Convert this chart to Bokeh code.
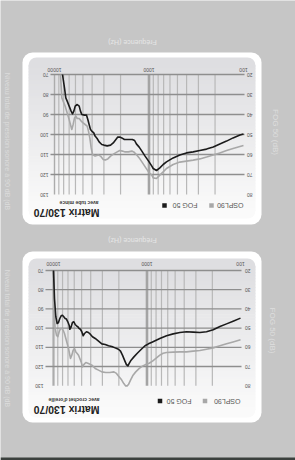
import math
import numpy as np
from bokeh.plotting import figure
from bokeh.models import Range1d, LogScale
from bokeh.core.properties import value
from bokeh.embed import file_html
from bokeh.resources import INLINE

# ---------------- data ----------------
level_ticks = [70, 80, 90, 100, 110, 120, 130]          # Niveau total (dB)
fog_ticks = [20, 30, 40, 50, 60, 70, 80]                # FOG 50 (dB)
freq_ticks = [10000, 1000, 100]
freq_tick_labels = ["10000", "1000", "100"]
minor_freqs = [200, 300, 400, 500, 600, 700, 800, 900,
               2000, 3000, 4000, 5000, 6000, 7000, 8000, 9000]
series_names = ["OSPL90", "FOG 50"]
titles = ["Matrix 130/70", "Matrix 130/70"]
subtitles = ["avec tube mince", "avec crochet d'oreille"]

# panel 1 : avec tube mince
ospl1_freq = [8650, 8360, 8100, 7720, 7340, 7000, 6780, 6560, 6350, 6140,
              5950, 5750, 5480, 5220, 4980, 4740, 4510, 4370, 4230, 4090,
              3960, 3720, 3420, 3260, 3050, 2910, 2730, 2550, 2360, 2170,
              2040, 1910, 1790, 1650, 1520, 1450, 1360, 1270, 1170, 1080,
              995, 933, 903, 833, 768, 708, 653, 555, 472, 401,
              341, 290, 246, 209, 178, 151, 129, 109, 100]
ospl1_db = [70.0, 81.7, 83.3, 85.8, 89.2, 92.5, 95.0, 97.5, 95.0, 91.7,
            90.8, 92.0, 92.0, 93.3, 94.2, 95.0, 95.8, 98.3, 101.7, 106.7,
            110.0, 110.8, 110.3, 110.8, 112.5, 112.8, 112.2, 110.8, 109.7, 108.7,
            108.0, 108.3, 108.7, 108.7, 108.3, 108.7, 110.0, 111.7, 114.2, 116.7,
            119.2, 120.3, 121.7, 122.0, 120.3, 118.7, 117.0, 115.0, 113.8, 113.3,
            112.8, 112.2, 111.3, 110.3, 109.2, 108.0, 107.0, 106.0, 105.5]
fog1_freq = [8230, 7840, 7590, 7340, 7000, 6670, 6450, 6240, 6040, 5750,
             5480, 5310, 5140, 4820, 4590, 4440, 4300, 4160, 4030, 3840,
             3720, 3540, 3370, 3160, 3010, 2770, 2550, 2390, 2240, 2140,
             2040, 1940, 1820, 1650, 1500, 1420, 1360, 1270, 1190, 1100,
             1010, 933, 903, 833, 768, 708, 653, 555, 472, 401,
             341, 290, 246, 209, 178, 151, 129, 109, 100]
fog1_db = [20.0, 26.7, 31.7, 33.3, 35.8, 38.3, 39.7, 38.3, 35.8, 35.0,
           35.8, 38.3, 40.0, 40.3, 40.3, 42.5, 45.0, 47.5, 48.3, 49.2,
           50.8, 52.0, 53.7, 55.0, 55.3, 55.7, 55.3, 54.2, 52.5, 51.3,
           51.3, 51.7, 52.5, 52.5, 52.5, 53.0, 54.7, 56.3, 58.3, 60.8,
           63.3, 65.8, 67.0, 68.0, 66.7, 65.0, 63.7, 61.7, 60.3, 59.2,
           58.7, 58.0, 57.3, 56.2, 54.7, 53.3, 51.7, 50.3, 49.7]

# panel 2 : avec crochet d'oreille
ospl2_freq = [10000, 9920, 9600, 9290, 8990, 8700, 8410, 8150, 7880, 7630,
              7380, 7140, 6910, 6690, 6580, 6370, 6160, 5960, 5770, 5580,
              5400, 5230, 5060, 4900, 4740, 4510, 4230, 3890, 3580, 3300,
              3040, 2760, 2500, 2260, 2120, 2020, 1890, 1770, 1690, 1630,
              1580, 1500, 1410, 1320, 1210, 1120, 1030, 948, 873, 791,
              729, 672, 618, 525, 445, 378, 321, 272, 231, 196,
              166, 141, 120, 100]
ospl2_db = [70.0, 89.8, 100.2, 103.7, 104.5, 101.9, 100.2, 100.2, 101.1, 102.8,
            105.4, 108.0, 110.6, 114.1, 115.8, 114.1, 111.5, 110.6, 112.4, 113.2,
            114.1, 115.8, 117.6, 120.2, 119.0, 117.9, 118.4, 119.3, 121.0, 121.9,
            122.8, 123.1, 123.1, 122.8, 123.6, 124.9, 126.6, 128.9, 130.1, 130.1,
            129.4, 127.1, 124.5, 122.8, 121.0, 119.8, 119.0, 118.3, 117.2, 115.5,
            114.1, 113.1, 112.7, 112.5, 112.4, 112.4, 112.0, 111.7, 111.0, 110.3,
            109.2, 108.2, 107.2, 106.1]
fog2_freq = [10000, 9760, 9440, 9140, 8850, 8560, 8280, 8020, 7760, 7510,
             7270, 7030, 6800, 6690, 6470, 6270, 6060, 5870, 5680, 5490,
             5320, 5150, 4980, 4820, 4660, 4440, 4230, 4020, 3830, 3580,
             3300, 3040, 2800, 2580, 2380, 2190, 2020, 1920, 1830, 1740,
             1660, 1600, 1550, 1480, 1380, 1270, 1150, 1050, 964, 873,
             729, 618, 525, 445, 378, 321, 272, 231, 196, 166,
             141, 120, 100]
fog2_db = [20.0, 34.6, 44.1, 47.6, 47.1, 45.0, 43.6, 43.3, 44.1, 45.0,
           45.3, 46.7, 48.5, 50.6, 49.3, 47.1, 46.7, 48.1, 48.8, 49.3,
           50.2, 50.6, 51.9, 54.0, 52.8, 51.9, 52.3, 53.3, 54.5, 55.4,
           56.8, 58.2, 58.5, 59.2, 59.6, 60.3, 61.0, 62.0, 64.1, 66.7,
           69.0, 69.7, 68.4, 66.7, 65.0, 63.1, 61.0, 59.2, 58.2, 57.2,
           55.4, 54.0, 53.0, 52.3, 51.9, 52.1, 52.3, 51.9, 50.9, 49.2,
           47.8, 46.4, 44.8]

# ---------------- layout / style ----------------
W, H = 295, 460
BG = "#c6c6c6"
FONT = value("Liberation Sans")
PI = math.pi

p = figure(width=W, height=H, x_range=Range1d(0, W), y_range=Range1d(H, 0),
           output_backend="svg", toolbar_location=None, x_axis_location=None,
           y_axis_location=None, min_border=0, title=None)
p.background_fill_color = BG
p.border_fill_color = BG
p.outline_line_color = None
p.grid.visible = False


def log_range(x10k, dec):
    lo = 4 + x10k / dec
    hi = 4 - (W - x10k) / dec
    return Range1d(10 ** lo, 10 ** hi)


def lin_range(y70, pxdb, offset=0):
    top = 70 - y70 / pxdb - offset
    bottom = 70 + (H - y70) / pxdb - offset
    return Range1d(bottom, top)


panels = [
    dict(fx="f1", ly="l1", gy="g1", x10k=54, dec=94.5, y70=74, pxdb=2.0,
         card=(22, 261, 52, 224), inner=(28, 255, 57, 218),
         hx=(50, 244), lab_l=48, lab_r=252, freq_y=69,
         leg_y=205, leg_sq=(211, 164), leg_tx=(243, 197),
         title_xy=(99, 212.5), sub_xy=(98, 202.5),
         freq_title_y=42, niveau_y=141, fogt=(275, 131.5),
         ospl=(ospl1_freq, ospl1_db), fog=(fog1_freq, fog1_db),
         thick10k=1.4),
    dict(fx="f2", ly="l2", gy="g2", x10k=53, dec=93.5, y70=270, pxdb=1.92,
         card=(22, 261, 251, 422), inner=(28, 255, 258, 417),
         hx=(45, 241), lab_l=43, lab_r=250, freq_y=263.5,
         leg_y=400.5, leg_sq=(204.5, 159.5), leg_tx=(240, 191),
         title_xy=(99, 409.5), sub_xy=(99, 399.5),
         freq_title_y=239.5, niveau_y=338, fogt=(272, 330),
         ospl=(ospl2_freq, ospl2_db), fog=(fog2_freq, fog2_db),
         thick10k=2.2),
]

p.extra_x_ranges = {pp["fx"]: log_range(pp["x10k"], pp["dec"]) for pp in panels}
p.extra_x_scales = {pp["fx"]: LogScale() for pp in panels}
yr = {}
for pp in panels:
    yr[pp["ly"]] = lin_range(pp["y70"], pp["pxdb"])
    yr[pp["gy"]] = lin_range(pp["y70"], pp["pxdb"], 50)
p.extra_y_ranges = yr

c_top = np.array([222, 222, 225])
c_bot = np.array([250, 250, 250])


def hexc(c):
    return "#%02x%02x%02x" % tuple(int(round(v)) for v in c)


# dark strip at the bottom of the page
p.quad(left=0, right=W, top=457, bottom=H, fill_color="#3b403d", line_color=None)

for i, pp in enumerate(panels):
    # card
    l, r, t, b = pp["card"]
    p.quad(left=l, right=r, top=t, bottom=b, fill_color="white", line_color=None,
           border_radius=10)
    # inner gradient panel
    l, r, t, b = pp["inner"]
    rad = 8
    p.quad(left=l, right=r, top=t, bottom=t + 2 * rad, fill_color=hexc(c_top),
           line_color=None, border_radius=rad)
    p.quad(left=l, right=r, top=b - 2 * rad, bottom=b, fill_color=hexc(c_bot),
           line_color=None, border_radius=rad)
    n = 48
    edges = np.linspace(t + rad, b - rad, n + 1)
    ts = np.linspace(0, 1, n)
    cols = [hexc(c_top + (c_bot - c_top) * tt) for tt in ts]
    p.quad(left=[l] * n, right=[r] * n, top=list(edges[:-1]), bottom=list(edges[1:] + 0.7),
           fill_color=cols, line_color=None)

    # vertical grid lines
    nm = len(minor_freqs)
    p.segment(x0=minor_freqs, x1=minor_freqs, y0=[70] * nm, y1=[130] * nm,
              x_range_name=pp["fx"], y_range_name=pp["ly"],
              line_color="#b8b8b8", line_width=1.2)
    p.segment(x0=[10000], x1=[10000], y0=[70], y1=[130],
              x_range_name=pp["fx"], y_range_name=pp["ly"],
              line_color="#acacac", line_width=pp["thick10k"])
    p.segment(x0=[1000], x1=[1000], y0=[70], y1=[130],
              x_range_name=pp["fx"], y_range_name=pp["ly"],
              line_color="#a4a4a4", line_width=2.6)
    # horizontal grid lines
    hl = level_ticks[:-1]
    p.segment(x0=[pp["hx"][0]] * len(hl), x1=[pp["hx"][1]] * len(hl), y0=hl, y1=hl,
              y_range_name=pp["ly"], line_color="#8e8e8e", line_width=1.3)

    # curves
    p.line(pp["ospl"][0], pp["ospl"][1], x_range_name=pp["fx"], y_range_name=pp["ly"],
           line_color="#a8a8a8", line_width=1.6, line_join="round")
    p.line(pp["fog"][0], pp["fog"][1], x_range_name=pp["fx"], y_range_name=pp["gy"],
           line_color="#1b1b1b", line_width=1.6, line_join="round")

    # tick labels (upside down)
    p.text(x=[pp["lab_l"]] * len(level_ticks), y=level_ticks, text=[str(v) for v in level_ticks],
           y_range_name=pp["ly"], angle=PI, text_align="left", text_baseline="middle",
           text_font=FONT, text_font_size="5px", text_color="#555555")
    p.text(x=[pp["lab_r"]] * len(fog_ticks), y=fog_ticks, text=[str(v) for v in fog_ticks],
           y_range_name=pp["gy"], angle=PI, text_align="left", text_baseline="middle",
           text_font=FONT, text_font_size="5px", text_color="#555555")
    p.text(x=freq_ticks, y=[pp["freq_y"]] * len(freq_ticks), text=freq_tick_labels,
           x_range_name=pp["fx"], angle=PI, text_align="center", text_baseline="middle",
           text_font=FONT, text_font_size="5px", text_color="#555555")

    # legend
    p.scatter(x=list(pp["leg_sq"]), y=[pp["leg_y"]] * 2, marker="square", size=4.5,
              fill_color=["#a8a8a8", "#1b1b1b"], line_color=None)
    p.text(x=list(pp["leg_tx"]), y=[pp["leg_y"]] * 2, text=series_names, angle=PI,
           text_align="left", text_baseline="middle", text_font=FONT,
           text_font_size="7px", text_color="#555555")

    # titles
    p.text(x=[pp["title_xy"][0]], y=[pp["title_xy"][1]], text=[titles[i]], angle=PI,
           text_align="left", text_baseline="middle", text_font=FONT,
           text_font_size="10.5px", text_font_style="bold", text_color="#222222")
    p.text(x=[pp["sub_xy"][0]], y=[pp["sub_xy"][1]], text=[subtitles[i]], angle=PI,
           text_align="left", text_baseline="middle", text_font=FONT,
           text_font_size="5px", text_font_style="bold", text_color="#333333")

    # outer labels
    p.text(x=[132], y=[pp["freq_title_y"]], text=["Fréquence (Hz)"], angle=PI,
           text_align="center", text_baseline="middle", text_font=FONT,
           text_font_size="7px", text_color="#e6e6e6")
    p.text(x=[7], y=[pp["niveau_y"]], text=["Niveau total de pression sonore à 90 dB (dB"],
           angle=-PI / 2, text_align="center", text_baseline="middle", text_font=FONT,
           text_font_size="7px", text_color="#dcdcdc")
    p.text(x=[pp["fogt"][0]], y=[pp["fogt"][1]], text=["FOG 50 (dB)"],
           angle=-PI / 2, text_align="center", text_baseline="middle", text_font=FONT,
           text_font_size="8px", text_color="#dedede")

open("out.html", "w").write(file_html(p, INLINE, title="Matrix 130/70"))
